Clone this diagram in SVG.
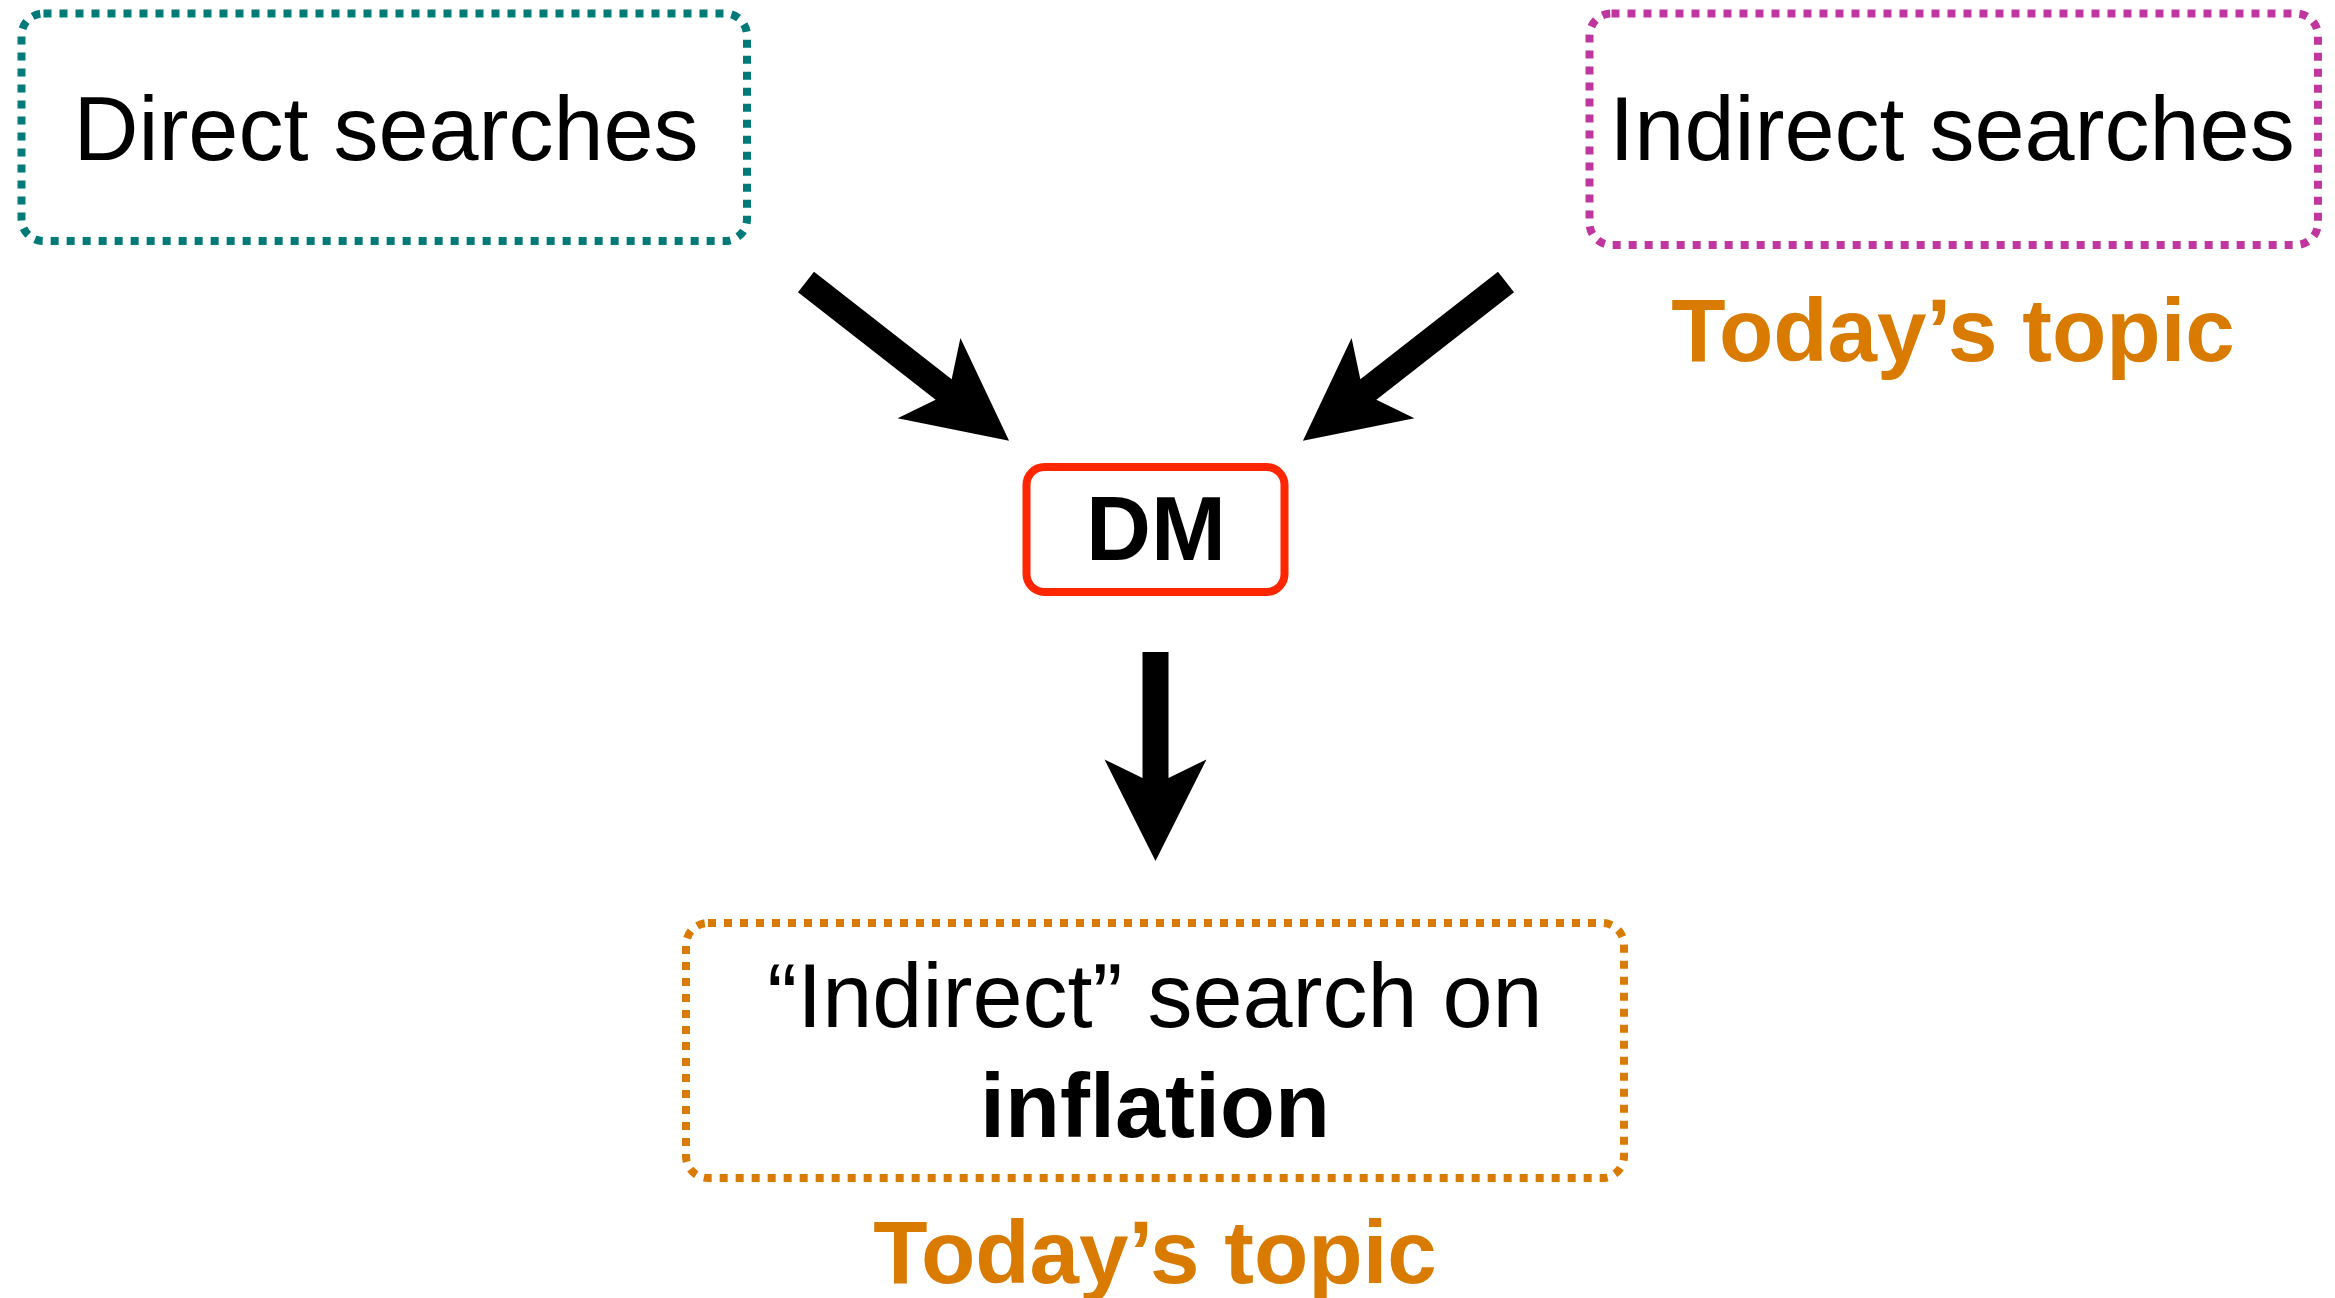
<svg xmlns="http://www.w3.org/2000/svg" width="2335" height="1298" viewBox="0 0 2335 1298">
  <style>
    .box { fill: #ffffff; stroke-width: 8; stroke-dasharray: 8 8; }
    .label { font-family: "Liberation Sans", Arial, sans-serif; font-size: 90px; fill: #000000; text-anchor: middle; }
    .bold { font-weight: bold; }
    .topic { font-family: "Liberation Sans", Arial, sans-serif; font-size: 89px; font-weight: bold; fill: #D87B00; text-anchor: middle; }
    .arrow { stroke: #000000; stroke-width: 26; fill: none; marker-end: url(#head); }
  </style>
  <defs>
    <!-- notched arrowhead; the shaft ends 70px short of the tip -->
    <marker id="head" markerUnits="userSpaceOnUse" orient="auto" viewBox="-40 -60 120 120" markerWidth="120" markerHeight="120" refX="0" refY="0" overflow="visible">
      <path d="M70,0 L-31.6,-51 L-13,-13 L-13,13 L-31.6,51 Z" fill="#000000"/>
    </marker>
  </defs>
  <rect width="2335" height="1298" fill="#ffffff"/>

  <g id="connectors">
    <line class="arrow" x1="806" y1="282" x2="953.9" y2="397.6"/>
    <line class="arrow" x1="1506" y1="282" x2="1358.1" y2="397.6"/>
    <line class="arrow" x1="1155.5" y1="652" x2="1155.5" y2="791"/>
  </g>

  <g id="direct-searches">
    <rect class="box" x="21.5" y="13.5" width="725.5" height="227.5" rx="22" stroke="#007A78"/>
    <text class="label" x="386" y="160">Direct searches</text>
  </g>

  <g id="indirect-searches">
    <rect class="box" x="1589.5" y="13.5" width="728.5" height="231.5" rx="22" stroke="#C0369F"/>
    <text class="label" x="1952" y="160">Indirect searches</text>
    <text class="topic" x="1953" y="361">Today’s topic</text>
  </g>

  <g id="dm">
    <rect x="1026.5" y="467" width="258" height="125" rx="18" fill="#ffffff" stroke="#FF2600" stroke-width="8"/>
    <text class="label bold" x="1156" y="560" font-size="88">DM</text>
  </g>

  <g id="inflation-search">
    <rect class="box" x="686" y="923" width="938" height="255" rx="22" stroke="#D97B00"/>
    <text class="label" x="1155" y="1027">“Indirect” search on</text>
    <text class="label bold" x="1155" y="1137">inflation</text>
    <text class="topic" x="1155" y="1283">Today’s topic</text>
  </g>
</svg>
